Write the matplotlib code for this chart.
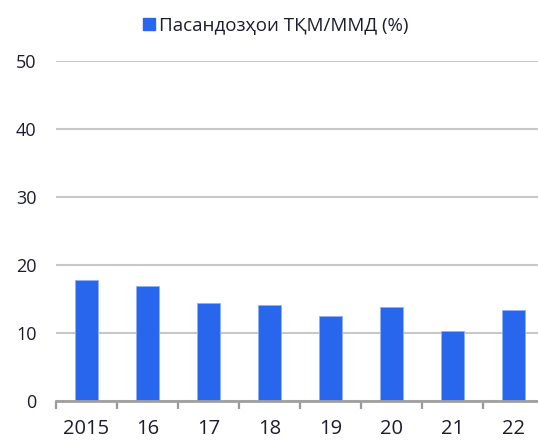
import numpy as np
import matplotlib
matplotlib.use("Agg")
import matplotlib.pyplot as plt
from matplotlib.patches import Rectangle

plt.rcParams["font.family"] = ["Open Sans", "Noto Sans", "DejaVu Sans"]

years = ["2015", "16", "17", "18", "19", "20", "21", "22"]
values = [17.7, 16.9, 14.3, 14.0, 12.5, 13.75, 10.2, 13.3]
series_name = "Пасандозҳои ТҚМ/ММД (%)"
yticks = [0, 10, 20, 30, 40, 50]

bar_color = "#2966ee"
text_color = "#1c1c30"

fig = plt.figure(figsize=(5.38, 4.41), dpi=100)
# axes runs a bit past the right edge, as in the source
ax = fig.add_axes([56 / 538, 40.5 / 441, 488 / 538, 340 / 441])

x = np.arange(len(years))
ax.bar(x, values, width=0.39, color=bar_color, edgecolor="#8fb0f8", linewidth=0.6, zorder=3)

ax.set_xlim(-0.5, len(years) - 0.5)
ax.set_ylim(0, 50)
ax.set_yticks(yticks)
ax.set_yticklabels([str(t) for t in yticks], fontsize=13, color=text_color)
ax.yaxis.grid(True, color="#c8c8c8", linewidth=1.5, zorder=0)
ax.tick_params(axis="y", length=0, pad=14)

# ticks between categories, labels centred under bars
ax.set_xticks(np.arange(len(years) + 1) - 0.5)
ax.set_xticklabels([])
ax.set_xticks(x, minor=True)
ax.set_xticklabels(years, minor=True, fontsize=14.5, color=text_color)
ax.tick_params(axis="x", which="major", length=6, width=1.6, color="#999999", direction="out")
ax.tick_params(axis="x", which="minor", length=0, pad=13)

for s in ["top", "right", "left"]:
    ax.spines[s].set_visible(False)
ax.spines["bottom"].set_color("#a0a0a0")
ax.spines["bottom"].set_linewidth(2)
ax.spines["bottom"].set_zorder(4)

legend_handle = Rectangle((0, 0), 1, 1, color=bar_color)
fig.legend([legend_handle], [series_name], loc="center", bbox_to_anchor=(276 / 538, 1 - 26 / 441),
           frameon=False, fontsize=13.5, handlelength=0.6, handleheight=0.6, handletextpad=0.25,
           labelcolor=text_color)

fig.savefig("out.png", dpi=100)
